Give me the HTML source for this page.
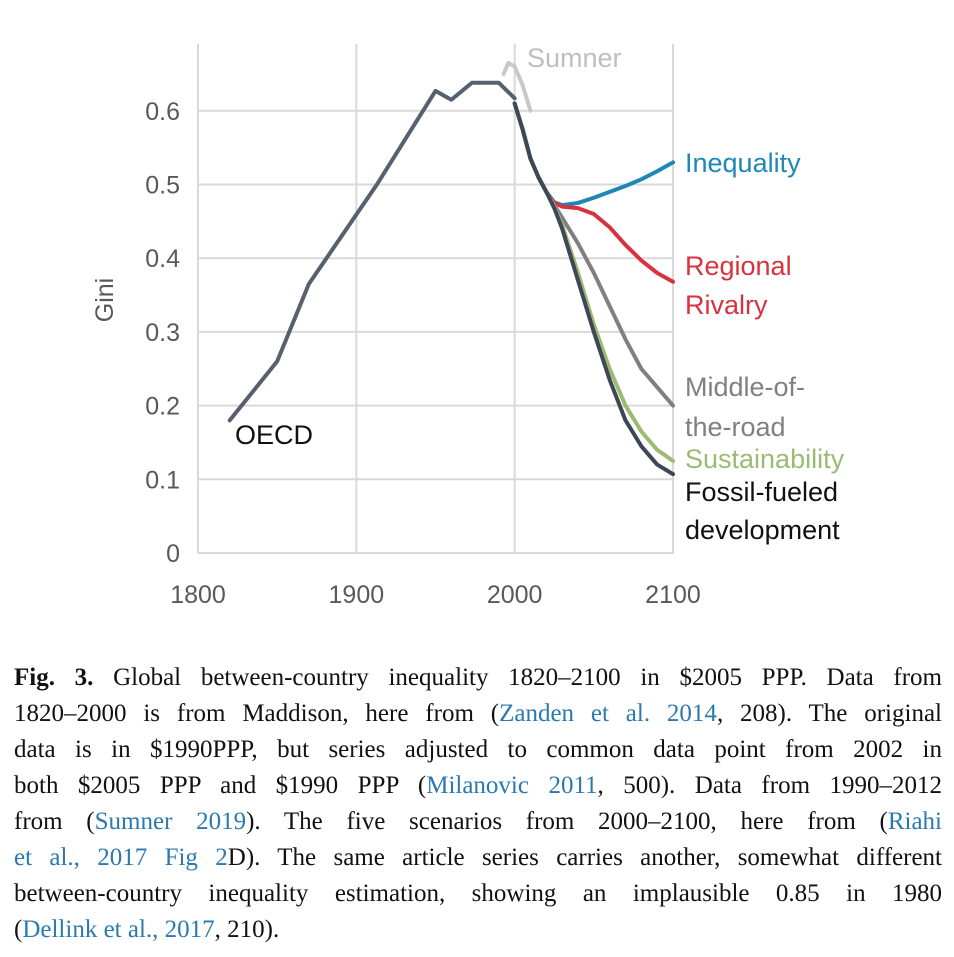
<!DOCTYPE html>
<html><head><meta charset="utf-8"><style>
body{margin:0;background:#fff;width:954px;height:957px;overflow:hidden;font-family:"Liberation Sans",sans-serif}
#cap{position:absolute;left:14px;top:660px;width:928px;font-family:"Liberation Serif",serif;font-size:25px;line-height:36px;color:#111}
#cap div{text-align:justify;text-align-last:justify;white-space:nowrap}
#cap div.last{text-align-last:left}
.l{color:#2a7ab0}
</style></head><body>
<svg id="chart" width="954" height="650" style="position:absolute;left:0;top:0" font-family="Liberation Sans, sans-serif"></svg>
<div id="cap">
<div><b>Fig. 3.</b> Global between-country inequality 1820–2100 in $2005 PPP. Data from</div>
<div>1820–2000 is from Maddison, here from (<span class="l">Zanden et al. 2014</span>, 208). The original</div>
<div>data is in $1990PPP, but series adjusted to common data point from 2002 in</div>
<div>both $2005 PPP and $1990 PPP (<span class="l">Milanovic 2011</span>, 500). Data from 1990–2012</div>
<div>from (<span class="l">Sumner 2019</span>). The five scenarios from 2000–2100, here from (<span class="l">Riahi</span></div>
<div><span class="l">et al., 2017 Fig 2</span>D). The same article series carries another, somewhat different</div>
<div>between-country inequality estimation, showing an implausible 0.85 in 1980</div>
<div class="last">(<span class="l">Dellink et al., 2017</span>, 210).</div>
</div>
<script>
const xTicks=[1800,1900,2000,2100];
const yTicks=[0,0.1,0.2,0.3,0.4,0.5,0.6];
const oecdYears=[1820,1850,1870,1913,1950,1960,1973,1990,2000];
const oecdVals=[0.18,0.26,0.365,0.5,0.627,0.615,0.638,0.638,0.617];
const sumnerYears=[1993,1996,2000,2005,2010];
const sumnerVals=[0.65,0.665,0.66,0.635,0.6];
const scenYears=[2000,2005,2010,2015,2020,2025,2030,2040,2050,2060,2070,2080,2090,2100];
const inequality=[0.61,0.575,0.535,0.51,0.49,0.476,0.472,0.475,0.482,0.49,0.498,0.507,0.518,0.53];
const rivalry=[0.61,0.575,0.535,0.51,0.49,0.475,0.47,0.468,0.46,0.442,0.418,0.397,0.38,0.368];
const middle=[0.61,0.575,0.535,0.51,0.49,0.472,0.455,0.42,0.38,0.335,0.29,0.25,0.225,0.2];
const sustain=[0.61,0.575,0.535,0.51,0.49,0.47,0.445,0.38,0.31,0.25,0.2,0.165,0.14,0.125];
const fossil=[0.61,0.575,0.535,0.51,0.49,0.468,0.44,0.37,0.30,0.235,0.18,0.145,0.12,0.107];
const X=y=>198+(y-1800)*1.5833, Y=v=>553-v*737;
const svg=document.getElementById('chart'),NS='http://www.w3.org/2000/svg';
function mk(t,a,p){const e=document.createElementNS(NS,t);for(const k in a)e.setAttribute(k,a[k]);(p||svg).appendChild(e);return e;}
yTicks.forEach(v=>{const l=mk('line',{x1:198,x2:674,y1:Y(v),y2:Y(v),stroke:'#d9d9d9','stroke-width':2});


const t=mk('text',{x:180,y:Y(v)+9,'text-anchor':'end','font-size':25,fill:'#595959'});t.textContent=v===0?'0':v.toFixed(1);

});
xTicks.forEach(yr=>{const l=mk('line',{x1:X(yr),x2:X(yr),y1:44,y2:553,stroke:'#d9d9d9','stroke-width':2});


const t=mk('text',{x:X(yr),y:603,'text-anchor':'middle','font-size':25,fill:'#595959'});t.textContent=yr;

});
const g=mk('text',{x:113,y:300,'text-anchor':'middle','font-size':25,fill:'#595959',transform:'rotate(-90 113 300)'});g.textContent='Gini';


function line(xs,vs,c,w,name){const p=mk('polyline',{points:xs.map((x,i)=>X(x)+','+Y(vs[i])).join(' '),fill:'none',stroke:c,'stroke-width':w,'stroke-linejoin':'round','stroke-linecap':'round'});

}
line(sumnerYears,sumnerVals,'#c8c8c8',4,'sumner-line');
line(scenYears,inequality,'#1f87b8',4,'inequality-line');
line(scenYears,rivalry,'#d7323d',4,'regional-rivalry-line');
line(scenYears,middle,'#808080',4,'middle-of-the-road-line');
line(scenYears,sustain,'#9bbb73',4,'sustainability-line');
line(scenYears,fossil,'#3e4758',4,'fossil-fueled-line');
line(oecdYears,oecdVals,'#56606e',4,'oecd-line');
const labs=[['Sumner',527,67,'#bfbfbf'],['Inequality',685,172,'#1f87b8'],['Regional',685,275,'#d7323d'],['Rivalry',685,314,'#d7323d'],['Middle-of-',685,396,'#808080'],['the-road',685,436,'#808080'],['Sustainability',685,468,'#9bbb73'],['Fossil-fueled',685,501,'#111'],['development',685,539,'#111'],['OECD',235,444,'#111']];
labs.forEach(a=>{const t=mk('text',{x:a[1],y:a[2],'font-size':27,fill:a[3]});t.textContent=a[0];

});
</script>
</body></html>
